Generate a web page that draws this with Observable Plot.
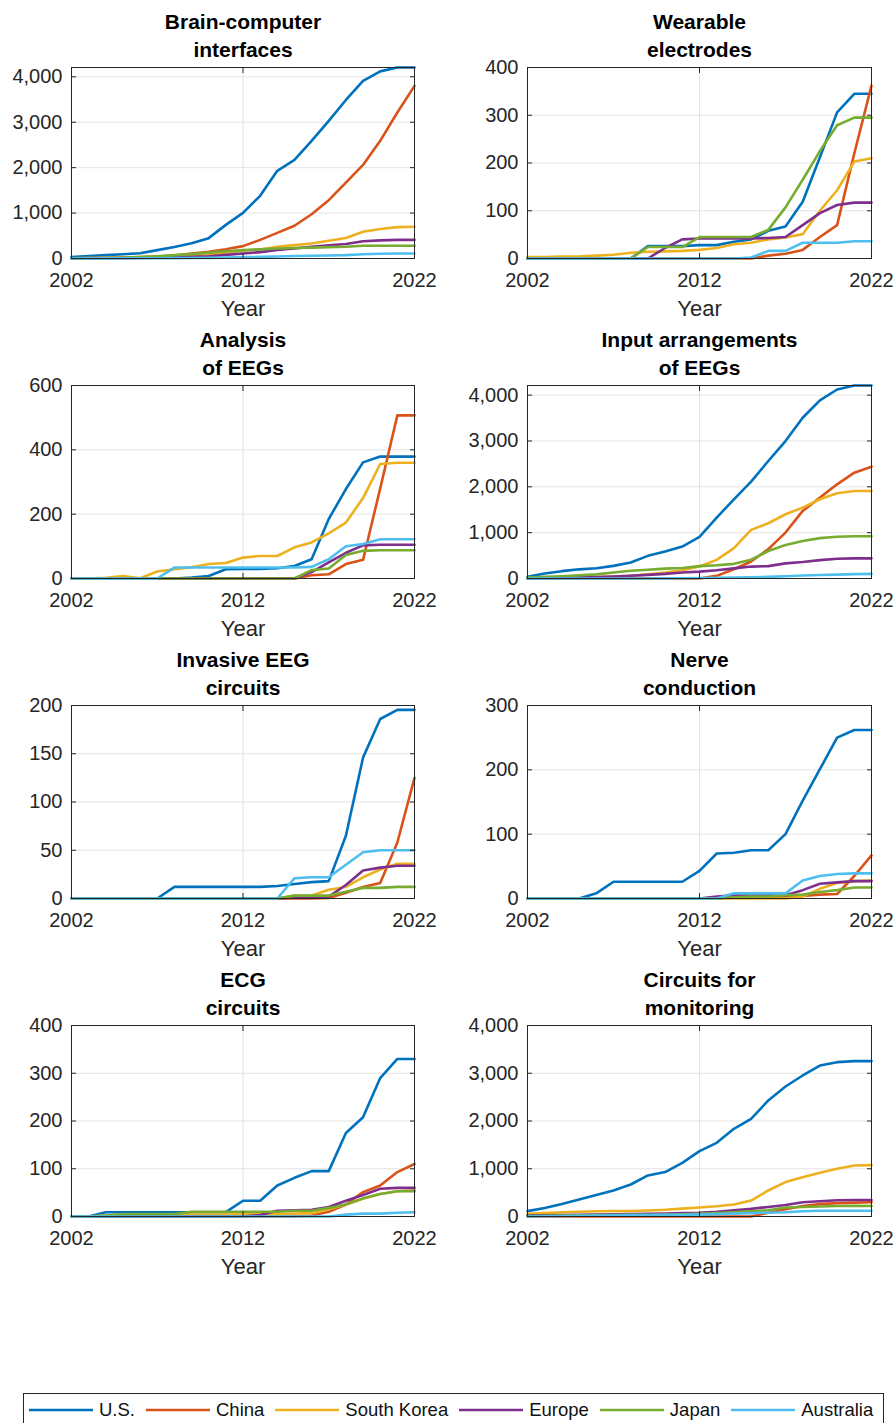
<!DOCTYPE html>
<html>
<head>
<meta charset="utf-8">
<script src="https://cdn.jsdelivr.net/npm/d3@7"></script>
<script src="https://cdn.jsdelivr.net/npm/@observablehq/plot@0.6"></script>
<style>
  body { margin: 0; background: #fff; }
  #page { position: relative; width: 896px; height: 1423px; overflow: hidden; background: #fff;
          font-family: "Liberation Sans", Arial, Helvetica, sans-serif; }
  .panel { position: absolute; }
  .panel svg { overflow: visible; }
  #legend { position: absolute; left: 23px; top: 1393px; width: 861px; height: 34px; box-sizing: border-box;
            border: 1px solid #262626; background: #fff; display: flex; align-items: center; padding-left: 5px;
            font-size: 18.5px; color: #111; white-space: nowrap; }
  .item { display: flex; align-items: center; margin-right: 11px; flex-shrink: 0; white-space: nowrap; }
  .item svg { margin-right: 6px; flex-shrink: 0; }
</style>
</head>
<body>
<div id="page"></div>
<script>
// ---------- data ----------
const years = [2002,2003,2004,2005,2006,2007,2008,2009,2010,2011,2012,2013,2014,2015,2016,2017,2018,2019,2020,2021,2022];
const countries = ["U.S.", "China", "South Korea", "Europe", "Japan", "Australia"];
const colors = ["#0072BD", "#D95319", "#EDB120", "#7E2F8E", "#77AC30", "#4DBEEE"];
const xTicks = [2002, 2012, 2022];

// Brain-computer interfaces
const bciUS    = [30,55,75,95,115,185,255,335,448,740,1005,1380,1930,2170,2590,3030,3490,3910,4120,4205,4205];
const bciChina = [5,10,15,20,30,45,65,110,150,205,272,410,565,720,975,1285,1670,2060,2590,3215,3800];
const bciSK    = [5,8,12,18,25,35,50,70,95,130,170,200,260,295,330,390,450,590,650,690,700];
const bciEU    = [2,4,6,8,12,18,25,35,50,80,110,140,190,220,260,290,320,380,400,410,410];
const bciJP    = [3,6,10,18,30,50,75,100,130,160,185,200,220,230,240,250,260,280,280,280,280];
const bciAU    = [1,2,3,4,5,6,8,10,13,20,30,35,45,55,60,65,75,95,105,110,110];

// Wearable electrodes
const wearUS    = [0,0,0,0,0,0,0,26,26,26,28,28,35,40,58,67,119,212,306,345,345];
const wearChina = [0,0,0,0,0,0,0,0,0,0,0,0,0,0,6,10,18,45,70,220,362];
const wearSK    = [3,3,4,4,6,8,12,14,15,16,18,22,30,33,40,44,51,100,143,203,210];
const wearEU    = [0,0,0,0,0,0,0,0,22,40,42,42,42,42,43,45,70,95,112,117,117];
const wearJP    = [0,0,0,0,0,0,0,24,24,24,45,45,45,45,60,107,165,225,279,295,295];
const wearAU    = [0,0,0,0,0,0,0,0,0,0,0,0,0,2,16,16,33,33,33,36,36];

// Analysis of EEGs
const anaUS    = [0,0,0,0,0,0,0,3,8,29,30,30,32,39,60,185,278,361,379,379,379];
const anaChina = [0,0,0,0,0,0,0,0,0,0,0,0,0,0,10,13,45,58,280,507,507];
const anaSK    = [0,0,2,8,1,22,29,35,45,48,65,70,70,97,112,140,174,250,356,360,360];
const anaEU    = [0,0,0,0,0,0,0,0,0,0,0,0,0,0,20,50,80,103,105,105,105];
const anaJP    = [0,0,0,0,0,0,0,0,0,0,0,0,0,0,26,31,73,86,88,88,88];
const anaAU    = [0,0,0,0,0,0,34,34,34,34,34,34,34,34,36,60,100,107,122,122,122];

// Input arrangements of EEGs
const inpUS    = [36,110,160,200,225,275,348,494,588,697,907,1328,1728,2112,2563,2998,3506,3884,4123,4210,4210];
const inpChina = [0,0,0,0,0,0,0,0,0,0,0,58,203,370,640,1002,1474,1764,2054,2308,2439];
const inpSK    = [0,5,10,20,30,45,60,90,130,180,260,407,661,1060,1205,1401,1546,1728,1858,1909,1909];
const inpEU    = [0,5,10,20,30,45,60,80,100,130,150,180,220,260,270,330,360,400,430,440,440];
const inpJP    = [20,35,50,70,90,130,170,190,215,230,270,290,320,410,600,730,820,880,910,920,920];
const inpAU    = [0,0,0,0,0,0,0,0,2,5,10,15,20,25,35,50,65,75,85,95,100];

// Invasive EEG circuits
const invUS    = [0,0,0,0,0,0,12,12,12,12,12,12,13,15,17,18,65,146,186,195.5,195.5];
const invChina = [0,0,0,0,0,0,0,0,0,0,0,0,0,0,0,0.5,6,12,16,58,125];
const invSK    = [0,0,0,0,0,0,0,0,0,0,0,0,0,3,3,9,12,22,30,36,36];
const invEU    = [0,0,0,0,0,0,0,0,0,0,0,0,0,1,1,2,14,29,32,34,34];
const invJP    = [0,0,0,0,0,0,0,0,0,0,0,0,0,3,3,3,7,11,11,12,12];
const invAU    = [0,0,0,0,0,0,0,0,0,0,0,0,0,21,22,22,35,48,50,50,50];

// Nerve conduction
const nerUS    = [0,0,0,0,8,26,26,26,26,26,43,70,71,75,75,100,152,201,250,262,262];
const nerChina = [0,0,0,0,0,0,0,0,0,0,0,1,1,2,2,3,4,6,7,35,67];
const nerSK    = [0,0,0,0,0,0,0,0,0,0,0,0,0,0,0,0,3,15,24,27,28];
const nerEU    = [0,0,0,0,0,0,0,0,0,0,0,3,5,5,5,5,13,23,25,27,27];
const nerJP    = [0,0,0,0,0,0,0,0,0,0,0,0,2,3,3,5,6,10,13,17,17];
const nerAU    = [0,0,0,0,0,0,0,0,0,0,0,0,8,8,8,8,28,35,38,39,39];

// ECG circuits
const ecgUS    = [0,0,9,9,9,9,9,9,9,9,33,33,65,81,95,95,175,208,290,330,330];
const ecgChina = [0,0,0,0,0,0,0,0,0,0,0,0,0,0,2,10,25,51,65,93,110];
const ecgSK    = [0,0,2,4,4,4,4,4,4,4,5,5,5,6,7,15,25,37,47,53,55];
const ecgEU    = [0,0,0,0,0,0,0,0,0,0,0,3,12,13,14,20,33,45,58,60,60];
const ecgJP    = [0,0,2,5,5,5,5,10,10,10,10,10,10,12,12,18,25,38,47,53,53];
const ecgAU    = [0,0,0,0,0,0,0,0,0,0,0,0,0,0,0,0,4,6,6,8,9];

// Circuits for monitoring
const monUS    = [112,180,260,356,450,545,670,860,930,1124,1368,1543,1836,2045,2430,2723,2953,3162,3232,3253,3253];
const monChina = [0,0,0,0,0,0,0,0,0,0,0,0,0,0,80,150,220,260,280,290,300];
const monSK    = [56,70,90,100,110,115,115,125,140,165,190,215,250,335,545,720,824,915,1000,1068,1075];
const monEU    = [20,25,30,35,40,45,50,55,60,70,80,100,130,160,200,240,300,320,340,345,345];
const monJP    = [10,15,20,25,28,30,33,36,40,45,55,70,90,110,130,190,200,210,220,225,220];
const monAU    = [0,5,10,15,20,25,28,30,33,36,40,50,60,70,80,90,110,120,120,120,120];

const titles = [
  "Brain-computer\ninterfaces", "Wearable\nelectrodes",
  "Analysis\nof EEGs", "Input arrangements\nof EEGs",
  "Invasive EEG\ncircuits", "Nerve\nconduction",
  "ECG\ncircuits", "Circuits for\nmonitoring"
];
const yTicks = [
  [0,1000,2000,3000,4000], [0,100,200,300,400],
  [0,200,400,600], [0,1000,2000,3000,4000],
  [0,50,100,150,200], [0,100,200,300],
  [0,100,200,300,400], [0,1000,2000,3000,4000]
];
const seriesSets = [
  [bciUS, bciChina, bciSK, bciEU, bciJP, bciAU],
  [wearUS, wearChina, wearSK, wearEU, wearJP, wearAU],
  [anaUS, anaChina, anaSK, anaEU, anaJP, anaAU],
  [inpUS, inpChina, inpSK, inpEU, inpJP, inpAU],
  [invUS, invChina, invSK, invEU, invJP, invAU],
  [nerUS, nerChina, nerSK, nerEU, nerJP, nerAU],
  [ecgUS, ecgChina, ecgSK, ecgEU, ecgJP, ecgAU],
  [monUS, monChina, monSK, monEU, monJP, monAU]
];

// ---------- layout ----------
const rowBoxTop = [67, 385, 705, 1025];
const rowBoxH = [191, 193, 193, 191];
const colLeft = [0, 448];
const colMarginLeft = [71, 79];
const colMarginRight = [34, 25];
const FONT = '"Liberation Sans", Arial, Helvetica, sans-serif';
const TOPM = 67, BOTM = 63;
const fmtY = d3.format(",d");
const fmtX = d3.format("d");

const page = document.getElementById("page");

titles.forEach((title, p) => {
  const row = Math.floor(p / 2), col = p % 2;
  const data = [];
  seriesSets[p].forEach((vals, k) => vals.forEach((v, i) => data.push({year: years[i], value: v, country: countries[k]})));
  const ticks = yTicks[p];
  const ymax = Math.max(ticks[ticks.length - 1], d3.max(data, d => d.value));
  const H = rowBoxH[row];
  const chart = Plot.plot({
    width: 448,
    height: TOPM + H + BOTM,
    marginTop: TOPM, marginBottom: BOTM,
    marginLeft: colMarginLeft[col], marginRight: colMarginRight[col],
    style: {fontFamily: FONT, fontSize: "20px", color: "#262626", background: "transparent", overflow: "visible"},
    x: {domain: [2002, 2022]},
    y: {domain: [0, ymax]},
    color: {domain: countries, range: colors},
    marks: [
      Plot.gridY(ticks, {stroke: "#e3e3e3", strokeOpacity: 1}),
      Plot.gridX([2012], {stroke: "#e3e3e3", strokeOpacity: 1}),
      Plot.line(data, {x: "year", y: "value", z: "country", stroke: "country", strokeWidth: 2.6, strokeLinejoin: "round"}),
      Plot.frame({stroke: "#262626", strokeWidth: 1}),
      Plot.axisY(ticks, {anchor: "left", tickSize: 0, tickPadding: 9, tickFormat: fmtY, fontSize: 20, label: null}),
      Plot.axisY(ticks, {anchor: "left", tickSize: -5, fill: "none", label: null}),
      Plot.axisY(ticks, {anchor: "right", tickSize: -5, fill: "none", label: null}),
      Plot.axisX(xTicks, {anchor: "bottom", tickSize: 0, tickPadding: 14, tickFormat: fmtX, fontSize: 20, label: null}),
      Plot.axisX(xTicks, {anchor: "bottom", tickSize: -5, fill: "none", label: null}),
      Plot.axisX(xTicks, {anchor: "top", tickSize: -5, fill: "none", label: null}),
      Plot.text(["Year"], {frameAnchor: "bottom", dy: 57, lineAnchor: "bottom", fontSize: 22, fill: "#262626"}),
      Plot.text([title], {frameAnchor: "top", dy: -11, lineAnchor: "bottom", lineHeight: 1.333, fontSize: 21, fontWeight: "bold", fill: "#000"})
    ]
  });
  const div = document.createElement("div");
  div.className = "panel";
  div.style.left = colLeft[col] + "px";
  div.style.top = (rowBoxTop[row] - TOPM) + "px";
  div.appendChild(chart);
  page.appendChild(div);
});

// ---------- legend ----------
const legend = document.createElement("div");
legend.id = "legend";
countries.forEach((c, k) => {
  const item = document.createElement("div");
  item.className = "item";
  const sw = d3.create("svg").attr("width", 64).attr("height", 6);
  sw.append("line").attr("x1", 0).attr("x2", 64).attr("y1", 3).attr("y2", 3)
    .attr("stroke", colors[k]).attr("stroke-width", 2.6);
  item.appendChild(sw.node());
  const t = document.createElement("span");
  t.textContent = c;
  item.appendChild(t);
  legend.appendChild(item);
});
page.appendChild(legend);
</script>
</body>
</html>
